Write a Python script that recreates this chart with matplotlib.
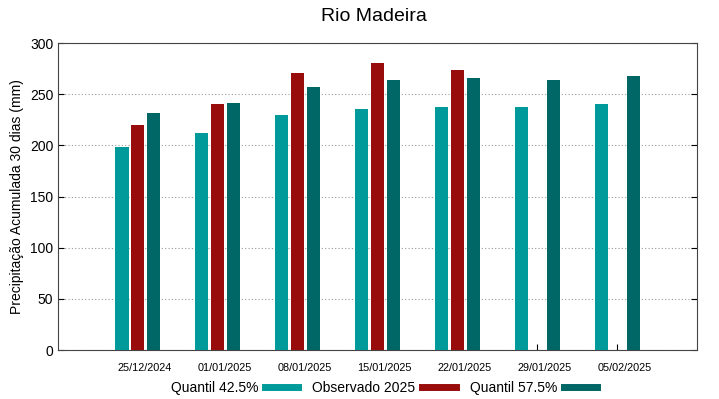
import matplotlib
matplotlib.use('Agg')
import matplotlib.pyplot as plt
from matplotlib.lines import Line2D
import numpy as np

plt.rcParams['font.family'] = ['Liberation Sans', 'DejaVu Sans']

datas = ['25/12/2024', '01/01/2025', '08/01/2025', '15/01/2025',
         '22/01/2025', '29/01/2025', '05/02/2025']
quantil_425 = [198, 212, 230, 236, 237.5, 237.5, 240]
observado_2025 = [220, 240, 271, 280, 274, None, None]
quantil_575 = [232, 241, 257, 264, 265.5, 264, 268]

cor_q1 = '#009a9a'
cor_obs = '#990c0c'
cor_q2 = '#006666'

fig = plt.figure(figsize=(7.19, 3.99), dpi=100)
ax = fig.add_axes([0.0807, 0.1228, 0.8887, 0.7694])

x = np.arange(len(datas))
larg = 0.165
ax.bar(x - 0.2, quantil_425, width=larg, color=cor_q1, zorder=3)
obs_x = [xi for xi, v in zip(x, observado_2025) if v is not None]
obs_v = [v for v in observado_2025 if v is not None]
ax.bar(obs_x, obs_v, width=larg, color=cor_obs, zorder=3)
ax.bar(x + 0.2, quantil_575, width=larg, color=cor_q2, zorder=3)

ax.set_xlim(-1, 7)
ax.set_ylim(0, 300)
ax.set_yticks(range(0, 301, 50))
# marcas nos centros dos grupos, rotulos levemente deslocados (estilo gnuplot)
ax.set_xticks(x)
ax.set_xticklabels([])
ax.set_xticks(x + 0.09, minor=True)
ax.set_xticklabels(datas, minor=True, fontsize=7.8)
ax.tick_params(axis='x', which='minor', length=0, pad=9)
ax.tick_params(axis='x', which='major', direction='in', length=4)
ax.tick_params(axis='y', direction='in', right=True, labelsize=10, length=4)
ax.grid(axis='y', linestyle=(0, (1, 2)), color='#999999', linewidth=0.8, zorder=0)
for s in ax.spines.values():
    s.set_color('#444444')

ax.set_ylabel('Precipitação Acumulada 30 dias (mm)', fontsize=10)
fig.text(0.52, 0.958, 'Rio Madeira', ha='center', va='center', fontsize=14)

handles = [Line2D([0], [0], color=c, lw=5) for c in (cor_q1, cor_obs, cor_q2)]
fig.legend(handles, ['Quantil 42.5%', 'Observado 2025', 'Quantil 57.5%'],
           loc='center', bbox_to_anchor=(0.534, 0.027), ncol=3, frameon=False,
           markerfirst=False, fontsize=10, handlelength=2.4, columnspacing=1.0,
           handletextpad=0.5)

fig.savefig('out.png', dpi=100)
